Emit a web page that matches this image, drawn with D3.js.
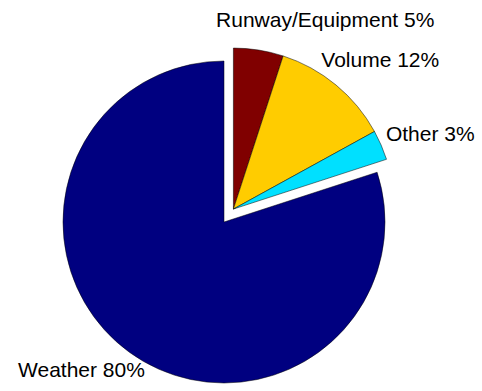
<!DOCTYPE html>
<html>
<head>
<meta charset="utf-8">
<script src="https://cdn.jsdelivr.net/npm/d3@7/dist/d3.min.js"></script>
<style>
  html, body { margin: 0; padding: 0; background: #fff; }
  svg { display: block; }
  text { font-family: "Liberation Sans", Arial, sans-serif; fill: #000; }
</style>
</head>
<body>
<div id="chart"></div>
<script>
// Causes of delay, clockwise from 12 o'clock
const categories = ["Runway/Equipment", "Volume", "Other", "Weather"];
const shares = [5, 12, 3, 80];
const exploded = [true, true, true, false];
const colors = ["#800000", "#FFCC00", "#00E0FF", "#000080"];

const width = 482, height = 391;
const cx = 224, cy = 222, radius = 161, explodeDist = 16;

const svg = d3.select("#chart").append("svg")
  .attr("width", width).attr("height", height);

const pie = d3.pie().sort(null).value(d => d.v).startAngle(0).endAngle(2 * Math.PI);
const arcs = pie(shares.map((v, i) => ({ v, name: categories[i], i })));
const arc = d3.arc().innerRadius(0).outerRadius(radius);

// exploded wedges move together along their combined bisector
const ex = arcs.filter(a => exploded[a.index]);
const exMid = (d3.min(ex, a => a.startAngle) + d3.max(ex, a => a.endAngle)) / 2;
const off = [explodeDist * Math.sin(exMid), -explodeDist * Math.cos(exMid)];

const slices = svg.append("g");
slices.selectAll("path").data(arcs).join("path")
  .attr("transform", a => {
    const o = exploded[a.index] ? off : [0, 0];
    return `translate(${cx + o[0]},${cy + o[1]})`;
  })
  .attr("d", arc)
  .attr("fill", a => colors[a.index])
  .attr("stroke", "#000")
  .attr("stroke-width", 0.5);

// label placement relative to each wedge's outer bisector point
const labelShift = [[-45, -7], [-25, -6], [-10, 2], [25, 12]];
const anchors = ["start", "start", "start", "end"];
svg.append("g").selectAll("text").data(arcs).join("text")
  .attr("x", a => {
    const o = exploded[a.index] ? off : [0, 0];
    const m = (a.startAngle + a.endAngle) / 2;
    return cx + o[0] + 1.1 * radius * Math.sin(m) + labelShift[a.index][0];
  })
  .attr("y", a => {
    const o = exploded[a.index] ? off : [0, 0];
    const m = (a.startAngle + a.endAngle) / 2;
    return cy + o[1] - 1.1 * radius * Math.cos(m) + labelShift[a.index][1];
  })
  .attr("text-anchor", a => anchors[a.index])
  .attr("font-size", 21)
  .text(a => `${a.data.name} ${a.data.v}%`);
</script>
</body>
</html>
